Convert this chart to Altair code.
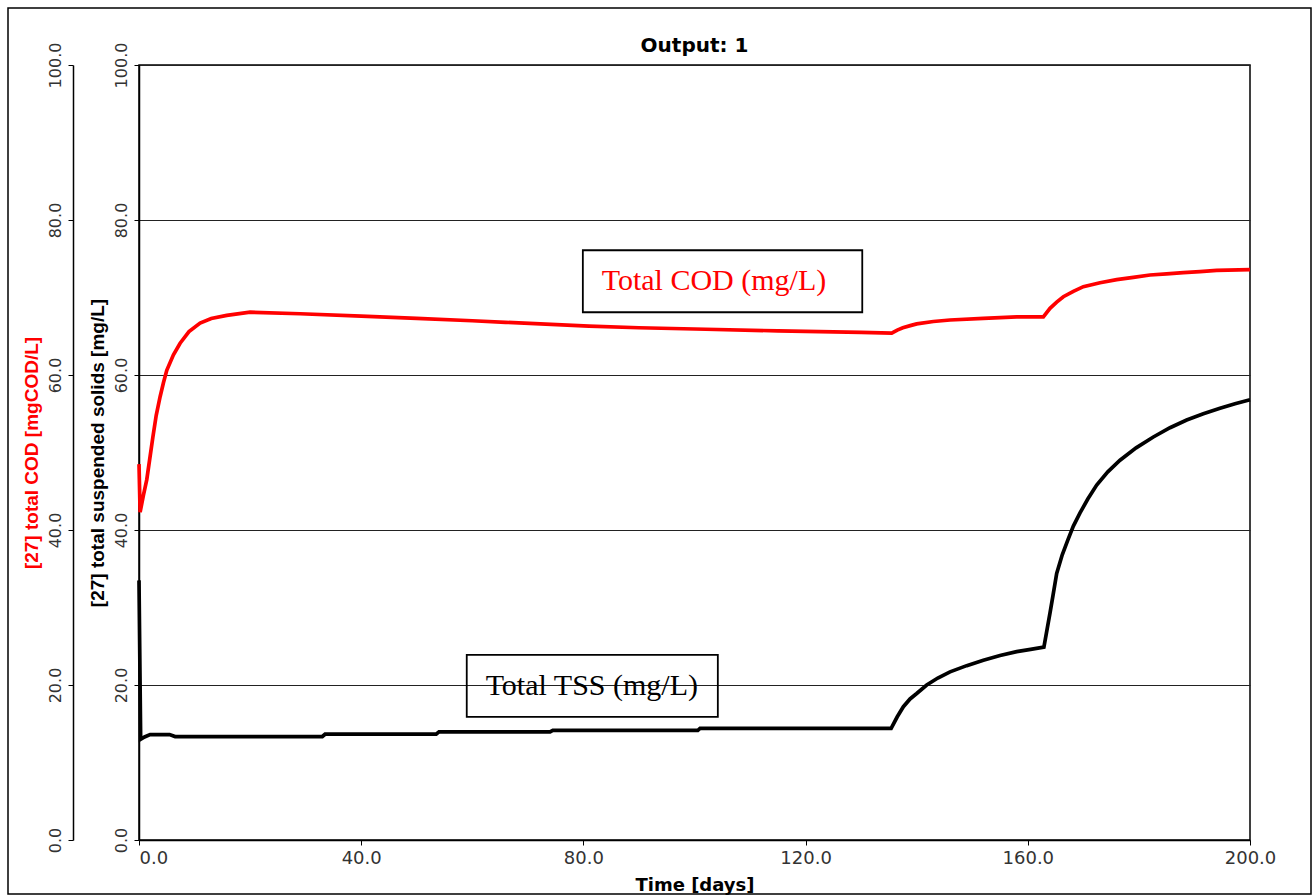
import altair as alt
import pandas as pd

# ---- data ----
cod_time = [0, 0.2, 0.8, 1.4, 2.0, 2.5, 3.1, 3.8, 4.4, 5.0, 6.2, 7.4, 9.0, 11, 13, 15.8, 20, 29, 40,
            50, 60, 66, 81, 90, 102, 115, 130, 135.5, 136.5, 137.5, 139, 140, 143, 146, 152, 158,
            162.8, 164, 165.2, 166.4, 168.2, 170, 173, 176, 179, 182, 185, 188, 191, 194, 200]
cod_value = [48.5, 42.3, 44.5, 46.5, 49.5, 52.0, 54.8, 57.2, 59.0, 60.6, 62.6, 64.1, 65.6, 66.7, 67.3,
             67.7, 68.1, 67.9, 67.6, 67.3, 67.0, 66.8, 66.3, 66.1, 65.9, 65.7, 65.5, 65.4, 65.8, 66.1,
             66.4, 66.6, 66.9, 67.1, 67.3, 67.5, 67.5, 68.6, 69.4, 70.1, 70.8, 71.4, 71.9, 72.3, 72.6,
             72.9, 73.05, 73.2, 73.35, 73.5, 73.6]

tss_time = [0, 0.3, 1.0, 2.0, 5.5, 6.5, 33, 33.5, 53.5, 54, 74, 74.5, 100.6, 101, 135.4, 136.5,
            137.6, 138.8, 140, 141.8, 143.8, 146, 149, 152, 155, 158, 160.5, 162.9, 164, 164.5,
            165.2, 166.2, 167.2, 168.2, 169.4, 170.8, 172.4, 174.4, 176.6, 179.5, 182.6, 185.6,
            188.6, 191.6, 194.6, 197.3, 200]
tss_value = [33.5, 13.0, 13.3, 13.6, 13.6, 13.35, 13.35, 13.65, 13.65, 13.95, 13.95, 14.15, 14.15,
             14.4, 14.4, 15.9, 17.2, 18.2, 18.9, 20.0, 20.9, 21.7, 22.5, 23.2, 23.8, 24.3, 24.6, 24.9,
             29.3, 31.4, 34.4, 36.8, 38.7, 40.5, 42.2, 44.0, 45.8, 47.5, 49.0, 50.6, 52.0, 53.2,
             54.2, 55.0, 55.7, 56.3, 56.8]

x_ticks = [0, 40, 80, 120, 160, 200]
y_ticks = [0, 20, 40, 60, 80, 100]

chart_title = "Output: 1"
note_labels = ["Total COD (mg/L)", "Total TSS (mg/L)"]
note_colors = ["#ff0000", "#000000"]

# ---- annotation layout (data units) ----
note_layout = {
    "t1": [79.9, 59.0], "t2": [130.2, 104.2],
    "y1": [68.1, 15.9], "y2": [76.1, 23.9],
    "tx": [83.3, 62.4], "ty": [72.1, 19.9],
}

cod_df = pd.DataFrame({"t": cod_time, "v": cod_value})
tss_df = pd.DataFrame({"t": tss_time, "v": tss_value})
notes_df = pd.DataFrame({"label": note_labels, "color": note_colors, **note_layout})

xscale = alt.Scale(domain=[0, 200], nice=False, zero=False)
yscale = alt.Scale(domain=[0, 100], nice=False)

xaxis = alt.Axis(
    values=x_ticks, format=".1f", title="Time [days]", grid=False,
    labelFont="DejaVu Sans", labelFontSize=18, labelColor="#333333", labelPadding=4,
    labelAlign={"condition": {"test": "datum.value == 0", "value": "left"}, "value": "center"},
    tickSize=5, tickColor="#000000", domainColor="#000000", domainWidth=1.5,
    titleFont="DejaVu Sans", titleFontWeight="bold", titleFontSize=18, titleColor="#000000",
    titleBaseline="alphabetic", titleY=50,
)


def yaxis(title, color, offset, grid):
    kw = dict(
        values=y_ticks, format=".1f", title=title, grid=grid, orient="left",
        labelFont="DejaVu Sans", labelFontSize=16, labelColor="#333333", labelAngle=270,
        labelAlign="center", labelBaseline="middle", labelPadding=13,
        tickSize=5, tickColor="#000000", domainColor="#000000", domainWidth=1.5,
        titleFont="Liberation Sans", titleFontWeight="bold", titleFontSize=19, titleColor=color,
        titleAngle=270, titleBaseline="middle", titleAlign="center", titleX=-42, titleY=387.5,
        offset=offset,
    )
    if grid:
        kw.update(gridColor="#222222", gridWidth=1.2, gridOpacity=1)
    return alt.Axis(**kw)


def X(field):
    return alt.X(field, type="quantitative", scale=xscale, axis=xaxis)


tss_line = alt.Chart(tss_df).mark_line(color="#000000", strokeWidth=3.7).encode(
    x=X("t"),
    y=alt.Y("v", type="quantitative", scale=yscale,
            axis=yaxis("[27] total suspended solids [mg/L]", "#000000", 0, True)),
)

cod_line = alt.Chart(cod_df).mark_line(color="#ff0000", strokeWidth=3.7).encode(
    x=X("t"),
    y=alt.Y("v", type="quantitative", scale=yscale,
            axis=yaxis("[27] total COD [mgCOD/L]", "#ff0000", 66, False)),
)

boxes = alt.Chart(notes_df).mark_rect(filled=False, stroke="#000000", strokeWidth=1.8).encode(
    x=X("t1"), x2="t2",
    y=alt.Y("y1", type="quantitative", scale=yscale, axis=None), y2="y2",
)

texts = alt.Chart(notes_df).mark_text(
    align="left", baseline="middle", font="Liberation Serif", fontSize=30
).encode(
    x=X("tx"),
    y=alt.Y("ty", type="quantitative", scale=yscale, axis=None),
    text="label",
    color=alt.Color("color", type="nominal", scale=None),
)

one_row = pd.DataFrame({"a": [0]})

border = alt.Chart(one_row).mark_rect(
    filled=False, stroke="#000000", strokeWidth=1.5
).encode(
    x=alt.value(-131), x2=alt.value(1172), y=alt.value(-57), y2=alt.value(829)
)

title_mark = alt.Chart(one_row).mark_text(
    text=chart_title, font="DejaVu Sans", fontWeight="bold", fontSize=20, color="#000000",
    align="center", baseline="alphabetic",
).encode(x=alt.value(555.5), y=alt.value(-13))

chart = alt.layer(border, title_mark, boxes, texts, tss_line, cod_line).resolve_scale(
    y="independent"
).properties(
    width=1111, height=775,
    autosize=alt.AutoSizeParams(type="none"),
    padding={"left": 139, "top": 65, "right": 66, "bottom": 56},
    background="#ffffff",
).configure_view(stroke="#000000", strokeWidth=1.5)

chart.save("out.html", embed_options={"renderer": "svg", "actions": False})
